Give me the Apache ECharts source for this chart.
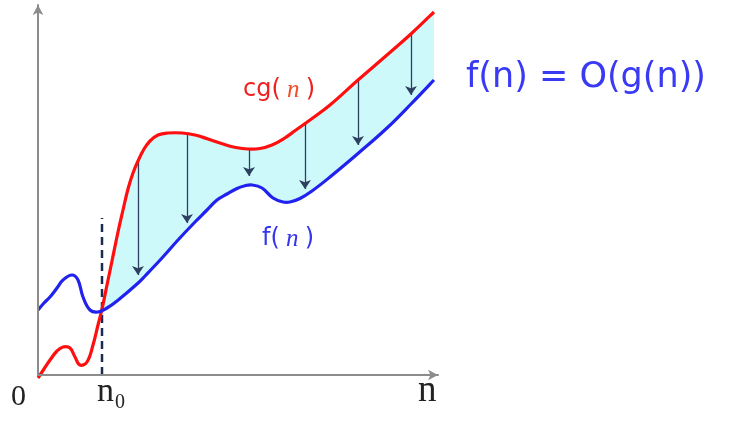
<!DOCTYPE html>
<html><head><meta charset="utf-8">
<script src="https://cdn.jsdelivr.net/npm/echarts@6/dist/echarts.min.js"></script>
<style>html,body{margin:0;padding:0;background:#fff}#c{width:734px;height:432px}</style>
</head><body><div id="c"></div>
<script>
// cg(n) curve (x, y) in axis units
const cgN = [[0,-3],[6,6],[12,15],[19,24],[25,28],[32,27],[37,18],[42,10],[49,13],[55,30],[60,50],[64,66],[69,90],[74,114],[80,143],[85,165],[90,186],[95,202],[100,214],[106,226],[112,234],[120,240],[130,242],[144,242],[157,240],[170,236],[185,231],[198,227.5],[210,226],[222,226.5],[234,230],[246,236.5],[258,245],[272,255],[292,270],[320,295],[349,320],[374,342],[396,363]];
// f(n) curve
const fN = [[0,65],[6,72],[12,78],[19,87],[25,95],[34,100],[40,95],[45,78],[52,65],[60,63],[69,67],[79,74],[99,91],[107,99],[124,117],[140,135],[157,153],[168,164],[179,175],[189,181],[199,186.5],[207,189.3],[214,190],[224,187],[235,177],[245,173],[252,173],[262,176.5],[274,184],[292,198],[320,221.5],[349,247],[374,272],[396,295]];
// n0 marker
const n0X = 64;
const n0Top = 157;
// arrows from cg(n) down to f(n)
const arrowX = [100,149,211,267,320,373];
const arrowFrom = [213,242,226,251,295,342];
const arrowTo = [100,152,199,186,230,280];
// axis labels
const tickLabels = ['0','n','0','n'];
const curveLabels = ['cg(','n',')','f(','n',')'];
const formula = 'f(n) = O(g(n))';

const TENSION = 0.4;
function smoothPath(pts) {
  const n = pts.length;
  let d = 'M' + pts[0][0].toFixed(2) + ',' + pts[0][1].toFixed(2);
  const dist = (a,b) => Math.hypot(b[0]-a[0], b[1]-a[1]) || 1e-6;
  for (let i = 0; i < n - 1; i++) {
    const p0 = pts[Math.max(i-1,0)], p1 = pts[i], p2 = pts[i+1], p3 = pts[Math.min(i+2,n-1)];
    const dPrev = i > 0 ? dist(p0,p1) : dist(p1,p2);
    const dCur = dist(p1,p2);
    const dNext = i < n-2 ? dist(p2,p3) : dist(p1,p2);
    const r1 = dCur/(dPrev+dCur) * TENSION;
    const r2 = dCur/(dCur+dNext) * TENSION;
    const c1 = [p1[0] + (p2[0]-p0[0])*r1, p1[1] + (p2[1]-p0[1])*r1];
    const c2 = [p2[0] - (p3[0]-p1[0])*r2, p2[1] - (p3[1]-p1[1])*r2];
    d += 'C' + c1.map(v=>v.toFixed(2)).join(',') + ' ' + c2.map(v=>v.toFixed(2)).join(',') + ' ' + p2.map(v=>v.toFixed(2)).join(',');
  }
  return d;
}
function areaPath(api, data) {
  const pts = data.map(p => api.coord(p));
  const base = api.coord([0,0])[1];
  return smoothPath(pts) + 'L' + pts[pts.length-1][0] + ',' + base + 'L' + pts[0][0] + ',' + base + 'Z';
}
function linePath(api, data) {
  return smoothPath(data.map(p => api.coord(p)));
}
function curveSeries(data, z, styleFn) {
  return {type:'custom', coordinateSystem:'cartesian2d', data:[[data[0][0], data[0][1]]], z:z, clip:false,
    renderItem:(params, api) => styleFn(api, data)};
}

const chart = echarts.init(document.getElementById('c'));
const axisCommon = {
  type:'value',
  axisLine:{show:true,onZero:false,lineStyle:{color:'#8c8c8c',width:2},symbol:['none','arrow'],symbolSize:[8,10]},
  axisTick:{show:false},axisLabel:{show:false},splitLine:{show:false},z:10
};
const arrows = arrowX.map((x,i)=>({coords:[[x,arrowFrom[i]],[x,arrowTo[i]]]}));
chart.setOption({
  animation:false,
  grid:{left:38,right:296,top:5,bottom:57},
  xAxis:Object.assign({},axisCommon,{min:0,max:400}),
  yAxis:Object.assign({},axisCommon,{min:0,max:370}),
  series:[
    curveSeries(cgN, 1, (api,d)=>({type:'path', shape:{pathData:areaPath(api,d)}, style:{fill:'#cdf9fb', stroke:null}})),
    curveSeries(fN, 2, (api,d)=>({type:'path', shape:{pathData:areaPath(api,d)}, style:{fill:'#ffffff', stroke:null}})),
    {type:'line',data:[[n0X,0],[n0X,n0Top]],symbol:'none',lineStyle:{color:'#1b2a50',width:2.5,type:[8,5]},z:4},
    {type:'lines',coordinateSystem:'cartesian2d',data:arrows,symbol:['none','arrow'],symbolSize:[7,9],
     lineStyle:{color:'#2e4060',width:1.3,opacity:1},z:4},
    curveSeries(cgN, 5, (api,d)=>({type:'path', shape:{pathData:linePath(api,d)}, style:{fill:'none', stroke:'#ff0f0f', lineWidth:3.2, lineJoin:'round'}})),
    curveSeries(fN, 5, (api,d)=>({type:'path', shape:{pathData:linePath(api,d)}, style:{fill:'none', stroke:'#2222ee', lineWidth:3.2, lineJoin:'round'}}))
  ],
  graphic:[
    {type:'text',z:100,x:11,y:397,style:{text:tickLabels[0],font:'30px "Liberation Serif"',fill:'#222',textVerticalAlign:'middle'}},
    {type:'text',z:100,x:97,y:392,style:{text:tickLabels[1],font:'34px "Liberation Serif"',fill:'#222',textVerticalAlign:'middle'}},
    {type:'text',z:100,x:115,y:403,style:{text:tickLabels[2],font:'20px "Liberation Serif"',fill:'#222',textVerticalAlign:'middle'}},
    {type:'text',z:100,x:418,y:391,style:{text:tickLabels[3],font:'37px "Liberation Serif"',fill:'#222',textVerticalAlign:'middle'}},
    {type:'text',z:100,x:243,y:90,style:{text:'{a|'+curveLabels[0]+'}{b| '+curveLabels[1]+' }{a|'+curveLabels[2]+'}',textVerticalAlign:'middle',
      rich:{a:{font:'24px "DejaVu Sans"',fill:'#ee2020'},b:{font:'italic 25px "Liberation Serif"',fill:'#f0502a'}}}},
    {type:'text',z:100,x:262,y:239,style:{text:'{a|'+curveLabels[3]+'}{b| '+curveLabels[4]+' }{a|'+curveLabels[5]+'}',textVerticalAlign:'middle',
      rich:{a:{font:'24px "DejaVu Sans"',fill:'#3535ee'},b:{font:'italic 25px "Liberation Serif"',fill:'#3535ee'}}}},
    {type:'text',z:100,x:466,y:78,style:{text:formula,font:'35px "DejaVu Sans"',fill:'#3a3af5',textVerticalAlign:'middle'}}
  ]
});
</script></body></html>
